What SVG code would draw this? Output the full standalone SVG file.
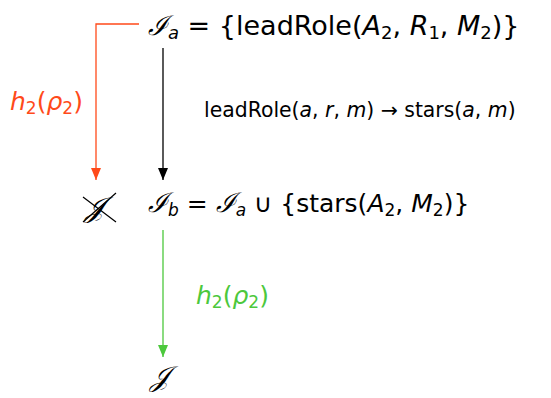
<svg xmlns="http://www.w3.org/2000/svg" width="551" height="398" viewBox="0 0 551 398">
<style>
.t{font-family:"DejaVu Sans","Liberation Sans",sans-serif;fill:#000}
.big{font-size:25px}
.mid{font-size:20.4px}
.i{font-style:italic}
.s{font-family:"DejaVu Serif","Liberation Serif",serif;font-style:italic}
.sub{font-size:17px}
</style>
<defs>
<marker id="ak" markerWidth="10" markerHeight="12" refX="5" refY="12" markerUnits="userSpaceOnUse" viewBox="0 0 10 12"><path d="M0,0 L10,0 L5,12 Z" fill="#000"/></marker>
<marker id="ar" markerWidth="10" markerHeight="12" refX="5" refY="12" markerUnits="userSpaceOnUse" viewBox="0 0 10 12"><path d="M0,0 L10,0 L5,12 Z" fill="#ff4a1a"/></marker>
<marker id="ag" markerWidth="10" markerHeight="12" refX="5" refY="12" markerUnits="userSpaceOnUse" viewBox="0 0 10 12"><path d="M0,0 L10,0 L5,12 Z" fill="#4cc83c"/></marker>
</defs>
<g id="connectors" fill="none">
<path d="M139,24 H96 V180" stroke="#ff4a1a" stroke-width="1.3" marker-end="url(#ar)"/>
<path d="M163,48 V180" stroke="#000" stroke-width="1.3" marker-end="url(#ak)"/>
<path d="M163,230 V357" stroke="#4cc83c" stroke-width="1.3" marker-end="url(#ag)"/>
</g>
<g id="Ia">
<text class="t" font-size="27" x="148" y="35"><tspan class="s">ℐ</tspan><tspan class="i" font-size="18" dy="4">a</tspan><tspan dy="-4"> = {leadRole(</tspan><tspan class="i">A</tspan><tspan font-size="18" dy="4">2</tspan><tspan dy="-4">, </tspan><tspan class="i">R</tspan><tspan font-size="18" dy="4">1</tspan><tspan dy="-4">, </tspan><tspan class="i">M</tspan><tspan font-size="18" dy="4">2</tspan><tspan dy="-4">)}</tspan></text>
</g>
<g id="rule">
<text class="t mid" x="204" y="117">leadRole(<tspan class="i">a</tspan>, <tspan class="i">r</tspan>, <tspan class="i">m</tspan>) → stars(<tspan class="i">a</tspan>, <tspan class="i">m</tspan>)</text>
</g>
<g id="red-label">
<text class="t big" x="10" y="110" style="fill:#ff4a1a"><tspan class="i">h</tspan><tspan class="sub" dy="4">2</tspan><tspan dy="-4">(</tspan><tspan class="i">ρ</tspan><tspan class="sub" dy="4">2</tspan><tspan dy="-4">)</tspan></text>
</g>
<g id="J-crossed">
<text class="s" x="85" y="217" font-size="28">𝒥</text>
<path d="M83,197 L116,222 M83,222 L116,193" stroke="#000" stroke-width="1.2" fill="none"/>
</g>
<g id="Ib">
<text class="t big" x="148" y="212"><tspan class="s" font-size="27">ℐ</tspan><tspan class="i sub" dy="4">b</tspan><tspan dy="-4"> = </tspan><tspan class="s" font-size="27">ℐ</tspan><tspan class="i sub" dy="4">a</tspan><tspan dy="-4"> ∪ {stars(</tspan><tspan class="i">A</tspan><tspan class="sub" dy="4">2</tspan><tspan dy="-4">, </tspan><tspan class="i">M</tspan><tspan class="sub" dy="4">2</tspan><tspan dy="-4">)}</tspan></text>
</g>
<g id="green-label">
<text class="t big" x="196" y="304" style="fill:#4cc83c"><tspan class="i">h</tspan><tspan class="sub" dy="4">2</tspan><tspan dy="-4">(</tspan><tspan class="i">ρ</tspan><tspan class="sub" dy="4">2</tspan><tspan dy="-4">)</tspan></text>
</g>
<g id="J">
<text class="s" x="150" y="386" font-size="28">𝒥</text>
</g>
</svg>
